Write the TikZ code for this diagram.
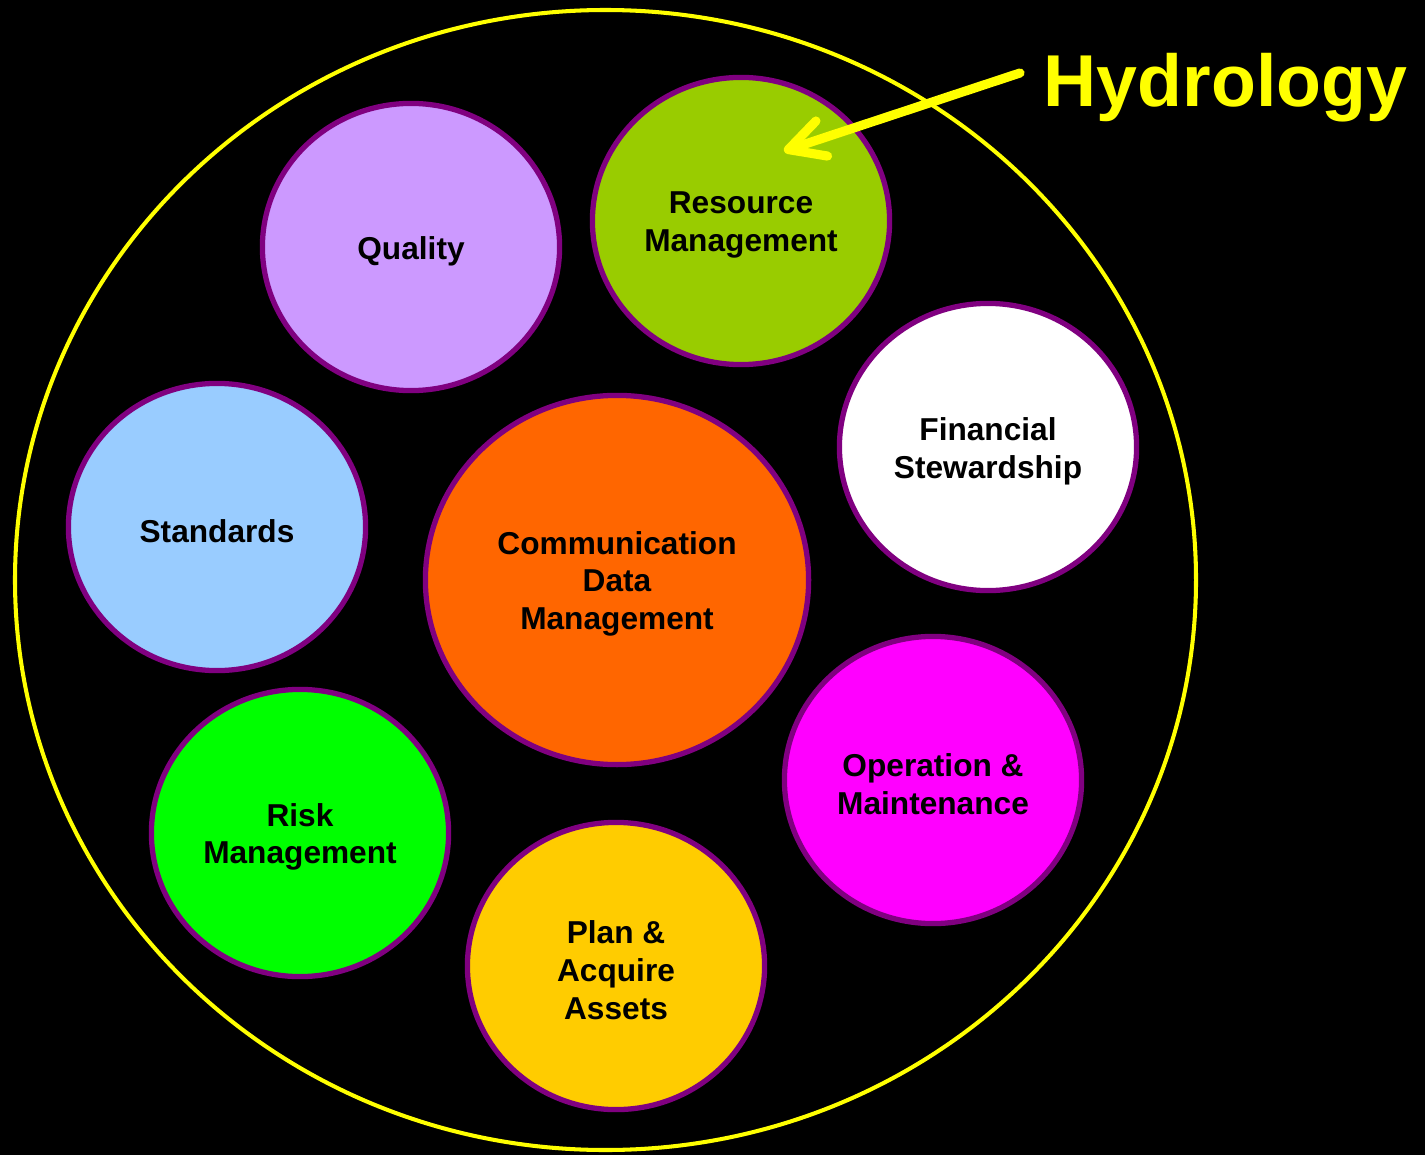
\documentclass[tikz,border=0pt]{standalone}
\usepackage{fontspec}
\setmainfont{Liberation Sans}
\usetikzlibrary{shapes.geometric,arrows.meta}
\definecolor{rimpurple}{HTML}{800080}
\definecolor{cquality}{HTML}{CC99FF}
\definecolor{cresource}{HTML}{99CC00}
\definecolor{cstandards}{HTML}{99CCFF}
\definecolor{ccomm}{HTML}{FF6600}
\definecolor{crisk}{HTML}{00FF00}
\definecolor{coper}{HTML}{FF00FF}
\definecolor{cplan}{HTML}{FFCC00}
\definecolor{hyellow}{HTML}{FFFF00}
\tikzset{
  bubble/.style={ellipse, draw=rimpurple, line width=1.5pt, inner sep=0pt,
    minimum width=2.97cm, minimum height=2.87cm},
  bigbubble/.style={bubble, minimum width=3.83cm, minimum height=3.69cm},
  btext/.style={align=center, inner sep=0pt, yshift=-1.1pt,
    font=\fontsize{9}{10.8}\selectfont\bfseries, text=black},
  outerring/.style={draw=hyellow, line width=1.15pt},
  hydarrow/.style={draw=hyellow, line width=2.6pt, line cap=round,
    -{Straight Barb[length=10pt,width=10.5pt,line cap=round,line join=round]}}
}
\begin{document}
\begin{tikzpicture}[x=0.01cm,y=-0.01cm]
\fill[black] (0,0) rectangle (1425,1155);
\useasboundingbox (0,0) rectangle (1425,1155);
\draw[outerring] (605.5,580) ellipse [x radius=590.5, y radius=570];

\node[bubble, fill=cquality, label={[btext]center:Quality}] (quality) at (411,247) {};
\node[bubble, fill=cresource, label={[btext]center:{Resource\\Management}}] (resource) at (741,221) {};
\node[bubble, fill=white, label={[btext]center:{Financial\\Stewardship}}] (financial) at (988,447) {};
\node[bubble, fill=cstandards, label={[btext]center:Standards}] (standards) at (217,527) {};
\node[bigbubble, fill=ccomm, label={[btext]center:{Communication\\Data\\Management}}] (comm) at (617,580) {};
\node[bubble, fill=crisk, label={[btext]center:{Risk\\Management}}] (risk) at (300,833) {};
\node[bubble, fill=coper, label={[btext]center:{Operation \&\\Maintenance}}] (oper) at (933,780) {};
\node[bubble, fill=cplan, label={[btext]center:{Plan \&\\Acquire\\Assets}}] (plan) at (616,966) {};

\node[anchor=base west, inner sep=0pt, text=hyellow,
  font=\fontsize{20.9}{24}\selectfont\bfseries] (hydro) at (1043,107) {Hydrology};
\coordinate (tip) at (784,151);
\draw[hydarrow] (1020,73) -- (tip);
\end{tikzpicture}
\end{document}
